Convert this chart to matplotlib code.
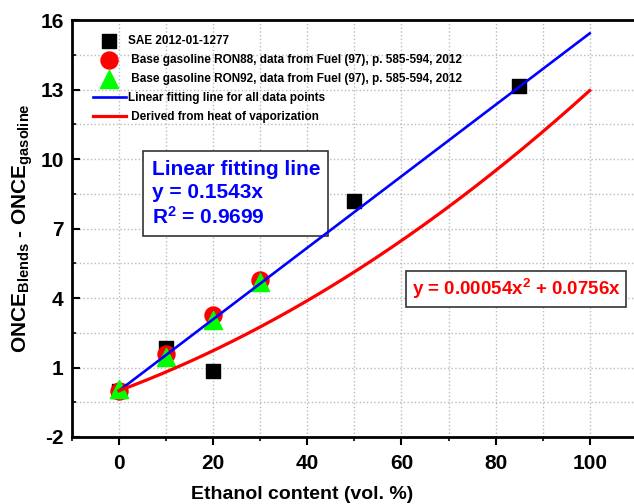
import numpy as np
import matplotlib
matplotlib.use("Agg")
import matplotlib.pyplot as plt
from matplotlib.ticker import MultipleLocator, FixedLocator

plt.rcParams['font.family'] = ['Liberation Sans', 'DejaVu Sans']
plt.rcParams['font.weight'] = 'bold'
plt.rcParams['axes.unicode_minus'] = False
plt.rcParams['mathtext.fontset'] = 'custom'
plt.rcParams['mathtext.rm'] = 'Liberation Sans:bold'
plt.rcParams['mathtext.bf'] = 'Liberation Sans:bold'
plt.rcParams['mathtext.it'] = 'Liberation Sans:bold'

# data
sae_x = [0, 10, 20, 50, 85]
sae_y = [0.0, 1.85, 0.85, 8.2, 13.15]
ron88_x = [0, 10, 20, 30]
ron88_y = [0.0, 1.6, 3.25, 4.8]
ron92_x = [0, 10, 20, 30]
ron92_y = [0.05, 1.45, 3.05, 4.7]

lin_slope = 0.1543
quad_a, quad_b = 0.00054, 0.0756

yticks = [-2, 1, 4, 7, 10, 13, 16]
xticks = [0, 20, 40, 60, 80, 100]

fig = plt.figure(figsize=(6.34, 5.04), dpi=100)
ax = fig.add_axes([0.1136, 0.133, 0.965, 0.827])

ax.scatter(sae_x, sae_y, marker='s', s=115, color='black', label='SAE 2012-01-1277', zorder=3)
ax.scatter(ron88_x, ron88_y, marker='o', s=150, color='red',
           label=' Base gasoline RON88, data from Fuel (97), p. 585-594, 2012', zorder=4)
ax.scatter(ron92_x, ron92_y, marker='^', s=170, color='#00ff00',
           label=' Base gasoline RON92, data from Fuel (97), p. 585-594, 2012', zorder=5)

xx = np.linspace(0, 100, 200)
ax.plot(xx, lin_slope * xx, color='blue', lw=1.9, label='Linear fitting line for all data points', zorder=6)
ax.plot(xx, quad_a * xx**2 + quad_b * xx, color='red', lw=2.3, label=' Derived from heat of vaporization', zorder=6)

ax.set_xlim(-10, 120)
ax.set_ylim(-2, 16)
ax.xaxis.set_major_locator(FixedLocator(xticks))
ax.xaxis.set_minor_locator(MultipleLocator(10))
ax.yaxis.set_major_locator(FixedLocator(yticks))
ax.yaxis.set_minor_locator(FixedLocator([t + 1.5 for t in yticks[:-1]]))
ax.grid(True, which='both', linestyle=':', color='#bbbbbb', lw=1.0)
ax.set_axisbelow(True)

ax.tick_params(axis='y', which='major', direction='in', length=6, width=1.5, labelsize=15, pad=6)
ax.tick_params(axis='y', which='minor', direction='in', length=3, width=1.2)
ax.tick_params(axis='x', which='major', direction='out', length=6, width=1.5, labelsize=15, pad=6)
ax.tick_params(axis='x', which='minor', direction='out', length=3, width=1.2)
for sp in ax.spines.values():
    sp.set_linewidth(2)

ax.set_xlabel('Ethanol content (vol. %)', fontsize=14, fontweight='bold')
ax.set_ylabel(r'ONCE$_{\mathrm{Blends}}$ - ONCE$_{\mathrm{gasoline}}$', fontsize=15, fontweight='bold', labelpad=4)
ax.xaxis.set_label_coords((302 - 72) / (0.965 * 634), -0.118)

leg = ax.legend(loc='upper left', bbox_to_anchor=(0.02, 0.985), frameon=False,
                prop={'size': 8.5, 'weight': 'bold'}, handlelength=2.8,
                handletextpad=0.2, labelspacing=0.6, borderaxespad=0.3)

ax.text(0.13, 0.665, 'Linear fitting line\ny = 0.1543x\nR$^2$ = 0.9699',
        transform=ax.transAxes, color='blue', fontsize=15, fontweight='bold',
        va='top', ha='left', linespacing=1.25,
        bbox=dict(boxstyle='square,pad=0.4', fc='white', ec='#333333', lw=1.2))
ax.text(0.555, 0.355, 'y = 0.00054x$^2$ + 0.0756x',
        transform=ax.transAxes, color='red', fontsize=13.5, fontweight='bold',
        va='center', ha='left',
        bbox=dict(boxstyle='square,pad=0.3', fc='white', ec='#333333', lw=1.2))

fig.savefig('out.png', dpi=100)
